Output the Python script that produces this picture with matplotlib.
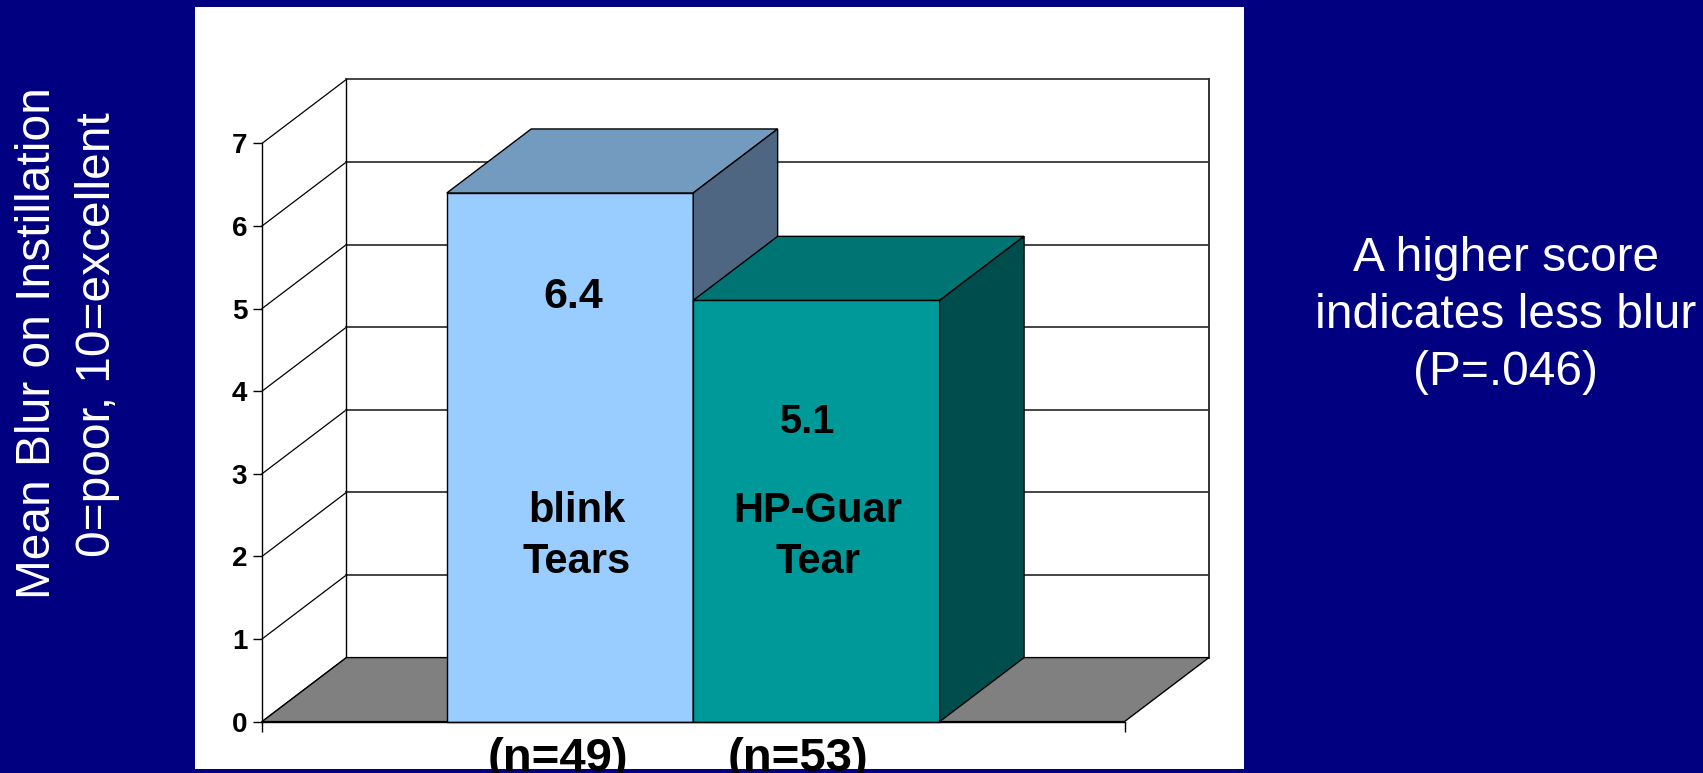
import matplotlib
matplotlib.use('Agg')
import matplotlib.pyplot as plt
from matplotlib.patches import Polygon, Rectangle

plt.rcParams['font.family'] = ['Liberation Sans', 'DejaVu Sans']

# data
groups = [['blink', 'Tears'], ['HP-Guar', 'Tear']]
mean_blur = [6.4, 5.1]
n_sizes = [49, 53]
yticks = [0, 1, 2, 3, 4, 5, 6, 7]
ylabel_lines = ['Mean Blur on Instillation', '0=poor, 10=excellent']
note_lines = ['A higher score', 'indicates less blur', '(P=.046)']

# styles
front_colors = ['#99CCFF', '#009999']
top_colors = ['#739BBF', '#007373']
side_colors = ['#4F6682', '#004D4D']
NAVY = '#000080'
GAP = 1.5  # excel gap width 150%

W, H = 1703, 773


def fx(px):
    return px / W


def fy(py):
    return 1 - py / H


fig = plt.figure(figsize=(W / 100, H / 100), dpi=100, facecolor=NAVY)

# white chart panel
fig.patches.append(Rectangle((fx(195), fy(768.5)), (1244 - 195) / W, (768.5 - 6.7) / H,
                             transform=fig.transFigure, facecolor='white',
                             edgecolor='none', zorder=-1))

# front plot area in pixels
left_px, right_px, base_px, top_px = 262, 1124.5, 721.6, 143.4
ax = fig.add_axes([fx(left_px), fy(base_px), (right_px - left_px) / W, (base_px - top_px) / H])
xmax = len(mean_blur) + GAP
ymax = yticks[-1]
ax.set_xlim(0, xmax)
ax.set_ylim(0, ymax)
ax.patch.set_visible(False)

# depth of the 3d box, converted from pixels to data units
ddx = 84.4 / ((right_px - left_px) / xmax)
ddy = 64.0 / ((base_px - top_px) / ymax)

# walls and gridlines
for v in yticks:
    ax.plot([0, ddx], [v, v + ddy], color='black', lw=0.9, clip_on=False, zorder=1)
    ax.plot([ddx, xmax + ddx], [v + ddy, v + ddy], color='#444444', lw=1.4,
            clip_on=False, zorder=1)
ax.plot([ddx, ddx], [ddy, ymax + ddy], color='black', lw=1.0, clip_on=False, zorder=1)
ax.plot([xmax + ddx, xmax + ddx], [ddy, ymax + ddy], color='#333333', lw=1.4,
        clip_on=False, zorder=1)

# floor
ax.add_patch(Polygon([(0, 0), (xmax, 0), (xmax + ddx, ddy), (ddx, ddy)], closed=True,
                     facecolor='#808080', edgecolor='black', lw=1.0, clip_on=False, zorder=2))

# bars
for i, v in enumerate(mean_blur):
    x0 = GAP / 2 + i
    x1 = x0 + 1
    z = 3 + i
    ax.add_patch(Polygon([(x0, 0), (x1, 0), (x1, v), (x0, v)], closed=True,
                         facecolor=front_colors[i], edgecolor='black', lw=1.0,
                         clip_on=False, zorder=z))
    ax.add_patch(Polygon([(x0, v), (x1, v), (x1 + ddx, v + ddy), (x0 + ddx, v + ddy)],
                         closed=True, facecolor=top_colors[i], edgecolor='black', lw=1.0,
                         clip_on=False, zorder=z))
    ax.add_patch(Polygon([(x1, 0), (x1, v), (x1 + ddx, v + ddy), (x1 + ddx, ddy)],
                         closed=True, facecolor=side_colors[i], edgecolor='black', lw=1.0,
                         clip_on=False, zorder=z))

# axes styling
for s in ['top', 'right']:
    ax.spines[s].set_visible(False)
for s in ['left', 'bottom']:
    ax.spines[s].set_color('black')
    ax.spines[s].set_linewidth(1.0)
    ax.spines[s].set_zorder(6)
ax.set_yticks(yticks)
ax.set_yticklabels([str(t) for t in yticks], fontsize=20, fontweight='bold')
ax.tick_params(axis='y', direction='out', length=6.7, width=1, pad=4, colors='black')
ax.set_xticks([0, xmax])
ax.set_xticklabels([])
ax.tick_params(axis='x', direction='out', length=7.2, width=1, colors='black')

# value labels inside bars
value_pos = [(573, 308), (807.5, 433.3)]
value_size = [31, 28.5]
for i, v in enumerate(mean_blur):
    fig.text(fx(value_pos[i][0]), fy(value_pos[i][1]), f'{v:.1f}', ha='center',
             va='baseline', fontsize=value_size[i], fontweight='bold', color='black')

# group names inside bars
name_x = [577, 817.5]
name_base = [521.7, 573.3]
for i, lines in enumerate(groups):
    for j, t in enumerate(lines):
        fig.text(fx(name_x[i]), fy(name_base[j]), t, ha='center', va='baseline',
                 fontsize=30, fontweight='bold', color='black')

# sample sizes below bars
n_x = [558, 798.3]
for i, n in enumerate(n_sizes):
    fig.text(fx(n_x[i]), fy(771), f'(n={n})', ha='center', va='baseline',
             fontsize=34, fontweight='bold', color='black')

# y axis title (rotated, two lines)
ylab_pos = [(50, 343.5), (110, 335)]
for (px, py), t in zip(ylab_pos, ylabel_lines):
    fig.text(fx(px), fy(py), t, rotation=90, rotation_mode='anchor', ha='center',
             va='baseline', fontsize=34.5, color='white')

# note on the right
note_base = [271, 328.3, 385]
for py, t in zip(note_base, note_lines):
    fig.text(fx(1506), fy(py), t, ha='center', va='baseline', fontsize=34.5, color='white')

fig.savefig('out.png', dpi=100, facecolor=NAVY)
